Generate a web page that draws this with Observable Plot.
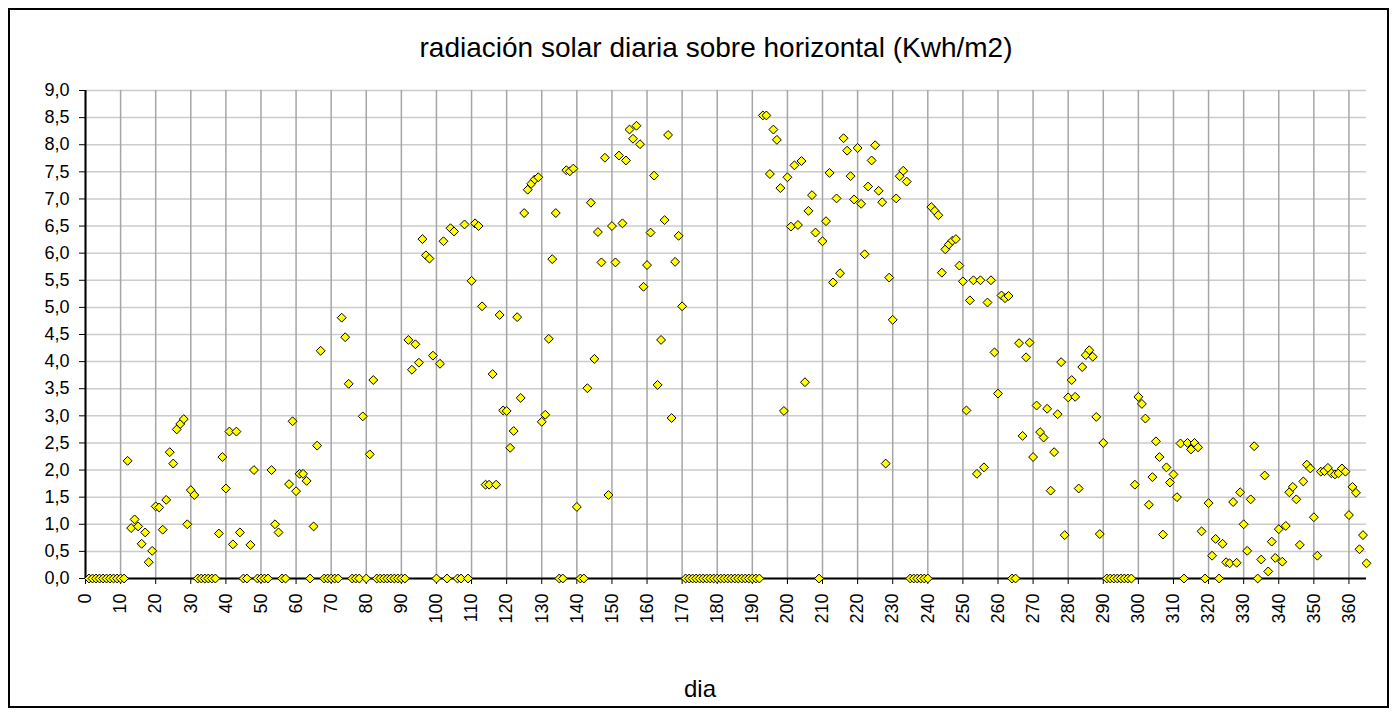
<!DOCTYPE html>
<html><head><meta charset="utf-8">
<script src="https://cdn.jsdelivr.net/npm/d3@7"></script>
<script src="https://cdn.jsdelivr.net/npm/@observablehq/plot@0.6"></script>
<style>
body{margin:0;background:#fff;font-family:"Liberation Sans",Arial,sans-serif;}
#frame{position:absolute;left:8px;top:8px;width:1381px;height:700px;border:2px solid #000;box-sizing:border-box;}
#title{position:absolute;left:116px;width:1200px;top:32px;text-align:center;font-size:28px;line-height:32px;color:#000;}
#chart{position:absolute;left:0;top:70px;}
#xlabel{position:absolute;left:100px;width:1200px;top:675px;text-align:center;font-size:24px;line-height:28px;color:#000;}
</style></head>
<body>
<div id="frame"></div>
<div id="title">radiación solar diaria sobre horizontal (Kwh/m2)</div>
<div id="chart"></div>
<div id="xlabel">dia</div>
<script>
// Radiación diaria (kWh/m2) por mes, día 1..365
const enero = [0,0,0,0,0,0,0,0,0,0,0,2.17,0.93,1.09,0.96,0.64,0.85,0.30,0.51,1.33,1.31,0.90,1.45,2.33,2.12,2.75,2.85,2.94,1.00,1.63,1.54];
const febrero = [0,0,0,0,0,0,0.83,2.24,1.66,2.71,0.63,2.71,0.85,0,0,0.62,2.00,0,0,0,0,2.00,1.00,0.85,0,0,1.74,2.90];
const marzo = [1.61,1.93,1.93,1.80,0,0.96,2.45,4.20,0,0,0,0,0,4.81,4.45,3.59,0,0,0,2.99,0,2.29,3.66,0,0,0,0,0,0,0,0];
const abril = [0,4.40,3.85,4.32,3.98,6.26,5.96,5.90,4.11,0,3.96,6.22,0,6.46,6.40,0,0,6.53,0,5.49,6.55,6.50,5.02,1.73,1.73,3.77,1.73,4.86,3.10,3.09];
const mayo = [2.41,2.72,4.82,3.33,6.74,7.17,7.28,7.36,7.40,2.89,3.02,4.42,5.89,6.74,0,0,7.53,7.51,7.56,1.32,0,0,3.51,6.93,4.05,6.39,5.83,7.76,1.54,6.50,5.83];
const junio = [7.80,6.55,7.71,8.28,8.11,8.35,8.01,5.38,5.78,6.38,7.43,3.57,4.40,6.61,8.18,2.96,5.84,6.32,5.02,0,0,0,0,0,0,0,0,0,0,0];
const julio = [0,0,0,0,0,0,0,0,0,0,0,8.54,8.54,7.46,8.28,8.09,7.20,3.09,7.40,6.49,7.62,6.52,7.70,3.62,6.78,7.07,6.38,0,6.22,6.59,7.48];
const agosto = [5.46,7.01,5.63,8.12,7.89,7.42,6.99,7.94,6.91,5.98,7.23,7.71,7.99,7.15,6.94,2.12,5.55,4.77,7.01,7.42,7.52,7.32,0,0,0,0,0,0,6.85,6.78,6.70];
const septiembre = [5.64,6.07,6.16,6.23,6.26,5.77,5.48,3.10,5.13,5.50,1.93,5.50,2.05,5.09,5.50,4.17,3.41,5.22,5.17,5.21,0,0,4.34,2.63,4.08,4.35,2.24,3.19,2.70,2.60];
const octubre = [3.13,1.62,2.33,3.03,3.99,0.80,3.34,3.66,3.35,1.66,3.90,4.12,4.21,4.09,2.98,0.82,2.50,0,0,0,0,0,0,0,0,1.73,3.35,3.22,2.95,1.36,1.87];
const noviembre = [2.53,2.24,0.81,2.05,1.77,1.92,1.50,2.49,0,2.50,2.38,2.50,2.42,0.87,0,1.39,0.42,0.73,0,0.64,0.30,0.28,1.41,0.29,1.59,1.00,0.51,1.46,2.44,0];
const diciembre = [0.35,1.90,0.13,0.68,0.38,0.91,0.31,0.97,1.59,1.69,1.46,0.62,1.79,2.10,2.03,1.13,0.42,1.97,1.98,2.04,1.94,1.92,1.94,2.03,1.97,1.17,1.69,1.58,0.54,0.80,0.28];

const xTicks = [0,10,20,30,40,50,60,70,80,90,100,110,120,130,140,150,160,170,180,190,200,210,220,230,240,250,260,270,280,290,300,310,320,330,340,350,360];
const yTicks = [0,0.5,1,1.5,2,2.5,3,3.5,4,4.5,5,5.5,6,6.5,7,7.5,8,8.5,9];

const valores = [].concat(enero,febrero,marzo,abril,mayo,junio,julio,agosto,septiembre,octubre,noviembre,diciembre);
const data = valores.map((v,i) => ({dia: i+1, valor: v}));

const fmt = d => d.toFixed(1).replace(".", ",");

const chart = Plot.plot({
  width: 1397,
  height: 646,
  marginLeft: 85,
  marginRight: 31,
  marginTop: 20,
  marginBottom: 138,
  style: {fontFamily: "'Liberation Sans', Arial, sans-serif", fontSize: "18px", color: "#000", background: "transparent"},
  x: {domain: [0, 365]},
  y: {domain: [0, 9]},
  marks: [
    Plot.gridY(yTicks, {stroke: "#cccccc", strokeOpacity: 1, strokeWidth: 1.5}),
    Plot.gridX(xTicks, {stroke: "#a6a6a6", strokeOpacity: 1, strokeWidth: 1.5}),
    Plot.axisY(yTicks, {tickFormat: fmt, tickSize: 6, tickPadding: 10, stroke: "#000", label: null, fontSize: 18}),
    Plot.axisX(xTicks, {tickFormat: d => String(d), tickSize: 6, tickPadding: 9, tickRotate: -90, stroke: "#000", label: null, fontSize: 18}),
    Plot.ruleY([0], {stroke: "#000", strokeWidth: 2}),
    Plot.ruleX([0], {stroke: "#000", strokeWidth: 2}),
    Plot.dot(data, {x: "dia", y: "valor", symbol: "diamond2", r: 4, fill: "#ffff00", stroke: "#000", strokeWidth: 1})
  ]
});
document.getElementById("chart").appendChild(chart);
</script>
</body></html>
